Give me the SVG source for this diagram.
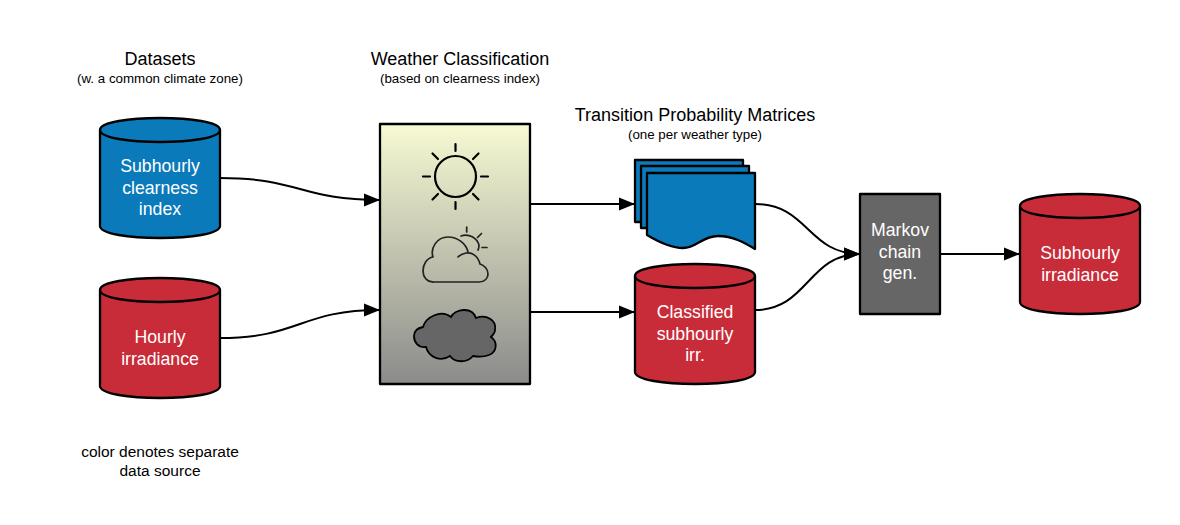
<svg xmlns="http://www.w3.org/2000/svg" width="1180" height="525" viewBox="0 0 1180 525">
<style>
text{font-family:"Liberation Sans",Arial,sans-serif;text-anchor:middle}
.h{font-size:18px;fill:#000}
.s{font-size:13.33px;fill:#000}
.c{font-size:15.5px;fill:#000}
.w{font-size:17.7px;fill:#fff}
.o{stroke:#000;stroke-width:2.3;stroke-linejoin:round}
.blue{fill:#0b7abb}
.red{fill:#c92c39}
.e{fill:none;stroke:#000;stroke-width:2.2;stroke-linecap:round}
.l{fill:none;stroke:#000;stroke-width:2}
</style>
<defs>
<linearGradient id="g" x1="0" y1="0" x2="0" y2="1"><stop offset="0" stop-color="#f7fad2"/><stop offset="1" stop-color="#8b8b8b"/></linearGradient>
<marker id="a" markerUnits="userSpaceOnUse" markerWidth="17" markerHeight="14" refX="16" refY="7" orient="auto"><path d="M0 0.500L16 7L0 13.500Z" fill="#000"/></marker>
<path id="cy" d="M0 12C0 -4 120 -4 120 12V108C120 124 0 124 0 108Z"/>
<path id="cl" d="M0 12C0 28 120 28 120 12"/>
</defs>
<rect width="1180" height="525" fill="#fff"/>
<g id="connectors">
<path class="l" marker-end="url(#a)" d="M220 178C300 178 300 200 380 200"/>
<path class="l" marker-end="url(#a)" d="M220 338C300 338 300 310 380 310"/>
<path class="l" marker-end="url(#a)" d="M530 204H635"/>
<path class="l" marker-end="url(#a)" d="M530 312H635"/>
<path class="l" marker-end="url(#a)" d="M755 204C808 204 808 254 860 254"/>
<path class="l" marker-end="url(#a)" d="M755 310C808 310 808 254 860 254"/>
<path class="l" marker-end="url(#a)" d="M940 254H1020"/>
</g>
<g id="title-datasets"><text class="h" x="160" y="65">Datasets</text><text class="s" x="160" y="83">(w. a common climate zone)</text></g>
<g id="title-weather"><text class="h" x="460" y="65">Weather Classification</text><text class="s" x="460" y="83">(based on clearness index)</text></g>
<g id="title-matrices"><text class="h" x="695" y="121">Transition Probability Matrices</text><text class="s" x="695" y="139">(one per weather type)</text></g>
<g id="note"><text class="c" x="160" y="457">color denotes separate</text><text class="c" x="160" y="476">data source</text></g>
<g id="clearness">
<g transform="translate(100 118)"><use href="#cy" class="o blue"/><use href="#cl" fill="none" class="o"/></g>
<text class="w" x="160" y="172">Subhourly</text><text class="w" x="160" y="194">clearness</text><text class="w" x="160" y="215">index</text>
</g>
<g id="hourly">
<g transform="translate(100 278)"><use href="#cy" class="o red"/><use href="#cl" fill="none" class="o"/></g>
<text class="w" x="160" y="343">Hourly</text><text class="w" x="160" y="365">irradiance</text>
</g>
<g id="weather">
<rect x="380" y="124" width="150" height="260" fill="url(#g)" class="o"/>
<g class="e">
<circle cx="455.500" cy="176.500" r="20.500"/>
<path d="M455.500 144V151M455.500 202V209M423 176.500H430M481 176.500H488M432.500 153.500L438 159M473 194L478.500 199.500M432.500 199.500L438 194M473 159L478.500 153.500"/>
</g>
<g fill="none" stroke="#222" stroke-width="1.7" stroke-linecap="round" stroke-linejoin="round">
<path d="M433 282H479C485 282 488 278 488 274C488 269 484 265 480 264C478 256 472 252 466 253C462 254 460 255 458 257"/>
<path d="M468 252C466 243 457 237 448 237C437 237 430 248 433 257C427 258 423 264 423 271C423 277 427 282 433 282"/>
<path d="M461 236C469 233 477 238 479 245C479 247 479 248 478 250"/>
<path d="M466.700 227V232M481.500 233.500L477.500 237.500M482 247.500H487"/>
</g>
<path d="M423 327C426 317 441 309 451 317C455 309 472 306 476 318C486 314 497 320 495 330C495 333 493 335 491 337C498 342 497 352 489 355C484 357 478 357 473 356C467 363 455 363 450 356C441 362 429 358 426 347C418 348 414 342 414 336C414 331 418 328 423 327Z" fill="#666" stroke="#000" stroke-width="1.8"/>
</g>
<g id="matrices" class="o blue">
<path d="M635 160H743V222H660L635 222Z"/>
<path d="M641 166H749V228H665L641 228Z"/>
<path d="M647 173H755V249C745 243 733 236 718 236C702 236 697 248 683 248C672 248 662 244 647 235Z"/>
</g>
<g id="classified">
<g transform="translate(635 264)"><use href="#cy" class="o red"/><use href="#cl" fill="none" class="o"/></g>
<text class="w" x="695" y="318">Classified</text><text class="w" x="695" y="340">subhourly</text><text class="w" x="695" y="361">irr.</text>
</g>
<g id="markov"><rect x="860" y="194" width="80" height="120" fill="#666" class="o"/><text class="w" x="900" y="236">Markov</text><text class="w" x="900" y="258">chain</text><text class="w" x="900" y="279">gen.</text></g>
<g id="subhourly">
<g transform="translate(1020 194)"><use href="#cy" class="o red"/><use href="#cl" fill="none" class="o"/></g>
<text class="w" x="1080" y="259">Subhourly</text><text class="w" x="1080" y="281">irradiance</text>
</g>
</svg>
